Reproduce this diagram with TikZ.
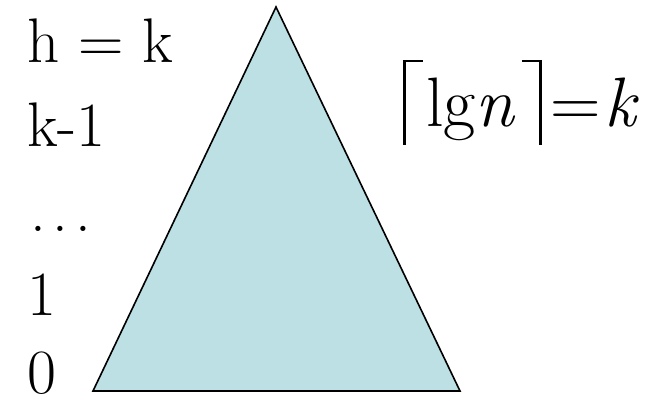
\documentclass[tikz,border=0pt]{standalone}
\usepackage{fontspec}

\begin{document}
\begin{tikzpicture}[x=1pt, y=-1pt]
  \definecolor{treefill}{RGB}{188,224,228}
  \def\ceilL{\rule[-18pt]{2.5pt}{85pt}\kern-2.5pt\rule[64.5pt]{20pt}{2.5pt}}
  \def\ceilR{\rule[64.5pt]{20pt}{2.5pt}\kern-2.5pt\rule[-18pt]{2.5pt}{85pt}}
  \tikzset{lvl/.style={anchor=base west, inner sep=0pt, font=\fontsize{63}{70}\selectfont}}
  \useasboundingbox (0,0) rectangle (662,401);

  %--- Tree as a triangle ---
  \coordinate (apex)  at (276,7);
  \coordinate (bleft) at (93,391);
  \coordinate (bright) at (460,391);
  \draw[fill=treefill, line width=1.6pt, line join=miter] (apex) -- (bleft) -- (bright) -- cycle;

  %--- Level labels on the left ---
  \node[lvl] (lblH)    at (27,63)  {h = k};
  \node[lvl] (lblK)    at (27,147) {k-1};
  \node[lvl] (lblDots) at (30,232) {.\kern7pt.\kern7pt.};
  \node[lvl] (lblOne)  at (27,315) {1};
  \node[lvl] (lblZero) at (27,393) {0};

  %--- Height formula ---
  \node[lvl, font=\fontsize{70}{80}\selectfont] (formula) at (403,127)
    {\ceilL\kern3pt lg\textit{n}\kern6pt\ceilR\kern9pt=\kern3pt\textit{k}};
\end{tikzpicture}
\end{document}
